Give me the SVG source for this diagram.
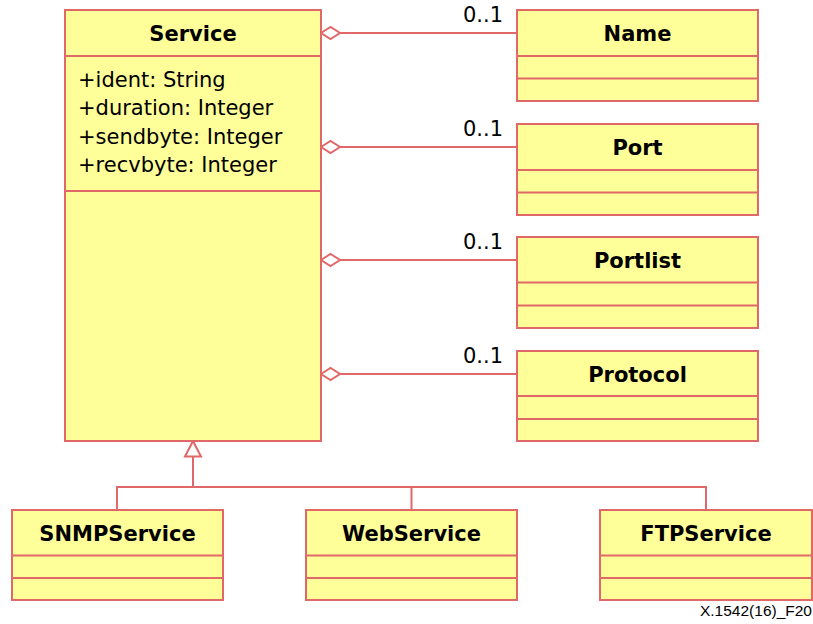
<svg xmlns="http://www.w3.org/2000/svg" width="813" height="624" viewBox="0 0 813 624">
<style>
.box{fill:#ffff99;stroke:#e06868;stroke-width:2}
.ln{stroke:#e06868;stroke-width:2;fill:none}
.t{font-family:"DejaVu Sans",Verdana,sans-serif;font-size:21px;font-weight:bold;text-anchor:middle;fill:#000}
.a{font-family:"DejaVu Sans",Verdana,sans-serif;font-size:21px;fill:#000}
.m{font-family:"DejaVu Sans",Verdana,sans-serif;font-size:21px;text-anchor:end;fill:#000}
.f{font-family:"Liberation Sans",Arial,sans-serif;font-size:15.5px;text-anchor:end;fill:#000}
</style>
<rect width="813" height="624" fill="#fff"/>
<g id="connectors">
  <path class="ln" d="M321,33 L330.5,27 L340,33 L330.5,39 Z" fill="#fff"/>
  <line class="ln" x1="340" y1="33" x2="517" y2="33"/>
  <path class="ln" d="M321,147 L330.5,141 L340,147 L330.5,153 Z" fill="#fff"/>
  <line class="ln" x1="340" y1="147" x2="517" y2="147"/>
  <path class="ln" d="M321,260 L330.5,254 L340,260 L330.5,266 Z" fill="#fff"/>
  <line class="ln" x1="340" y1="260" x2="517" y2="260"/>
  <path class="ln" d="M321,374 L330.5,368 L340,374 L330.5,380 Z" fill="#fff"/>
  <line class="ln" x1="340" y1="374" x2="517" y2="374"/>
  <text class="m" x="503" y="22">0..1</text>
  <text class="m" x="503" y="136">0..1</text>
  <text class="m" x="503" y="249">0..1</text>
  <text class="m" x="503" y="363">0..1</text>
  <path class="ln" d="M193,441 L201,456.5 L185,456.5 Z" fill="#fff"/>
  <path class="ln" d="M193,456.5 V487 M117,510 V487 H706 V510 M411.5,487 V510"/>
</g>
<g id="Service">
  <rect class="box" x="65" y="10" width="256" height="431"/>
  <line class="ln" x1="65" y1="56" x2="321" y2="56"/>
  <line class="ln" x1="65" y1="191" x2="321" y2="191"/>
  <text class="t" x="193" y="41">Service</text>
  <text class="a" x="78" y="87">+ident: String</text>
  <text class="a" x="78" y="115">+duration: Integer</text>
  <text class="a" x="78" y="143.5">+sendbyte: Integer</text>
  <text class="a" x="78" y="172">+recvbyte: Integer</text>
</g>
<g id="Name">
  <rect class="box" x="517" y="10" width="241" height="91"/>
  <line class="ln" x1="517" y1="56" x2="758" y2="56"/>
  <line class="ln" x1="517" y1="78.5" x2="758" y2="78.5"/>
  <text class="t" x="637.5" y="41">Name</text>
</g>
<g id="Port">
  <rect class="box" x="517" y="124" width="241" height="91"/>
  <line class="ln" x1="517" y1="170" x2="758" y2="170"/>
  <line class="ln" x1="517" y1="192.5" x2="758" y2="192.5"/>
  <text class="t" x="637.5" y="155">Port</text>
</g>
<g id="Portlist">
  <rect class="box" x="517" y="237" width="241" height="91"/>
  <line class="ln" x1="517" y1="282.5" x2="758" y2="282.5"/>
  <line class="ln" x1="517" y1="305.5" x2="758" y2="305.5"/>
  <text class="t" x="637.5" y="268">Portlist</text>
</g>
<g id="Protocol">
  <rect class="box" x="517" y="351" width="241" height="90"/>
  <line class="ln" x1="517" y1="396" x2="758" y2="396"/>
  <line class="ln" x1="517" y1="419" x2="758" y2="419"/>
  <text class="t" x="637.5" y="382">Protocol</text>
</g>
<g id="SNMPService">
  <rect class="box" x="12" y="510" width="211" height="90"/>
  <line class="ln" x1="12" y1="555.5" x2="223" y2="555.5"/>
  <line class="ln" x1="12" y1="578" x2="223" y2="578"/>
  <text class="t" x="117.5" y="541">SNMPService</text>
</g>
<g id="WebService">
  <rect class="box" x="306" y="510" width="211" height="90"/>
  <line class="ln" x1="306" y1="555.5" x2="517" y2="555.5"/>
  <line class="ln" x1="306" y1="578" x2="517" y2="578"/>
  <text class="t" x="411.5" y="541">WebService</text>
</g>
<g id="FTPService">
  <rect class="box" x="600" y="510" width="212" height="90"/>
  <line class="ln" x1="600" y1="555.5" x2="812" y2="555.5"/>
  <line class="ln" x1="600" y1="578" x2="812" y2="578"/>
  <text class="t" x="706" y="541">FTPService</text>
</g>
<text class="f" x="812" y="616">X.1542(16)_F20</text>
</svg>
